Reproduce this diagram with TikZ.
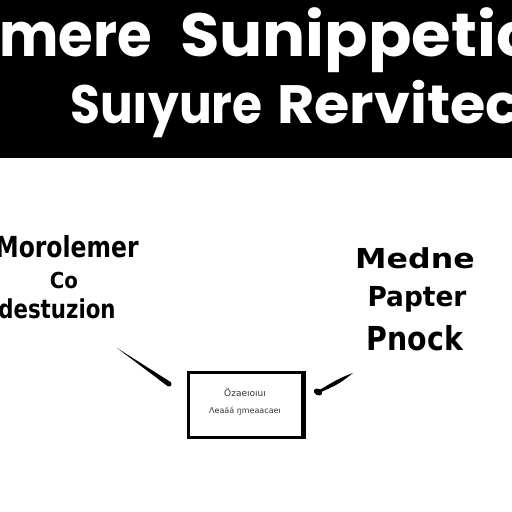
\documentclass[tikz,border=0pt]{standalone}
\usepackage{fontspec}
\setmainfont{DejaVu Sans}
\newfontfamily\bannerfont{Poppins}
\newfontfamily\bodyfont{DejaVu Sans}
\usetikzlibrary{calc}
\tikzset{
  bannertext/.style={text=white, inner sep=0pt, anchor=base west, font=\bannerfont\bfseries},
  bodytext/.style={text=black, inner sep=0pt, anchor=base, font=\bodyfont\bfseries},
  boxtext/.style={text=black!80, inner sep=0pt, anchor=base, font=\bodyfont},
  frame/.style={draw=black, line width=3pt, fill=white, minimum width=114pt, minimum height=65pt, inner sep=0pt},
  stroke/.style={fill=black, draw=none}
}
\begin{document}
\begin{tikzpicture}[x=1pt,y=-1pt]
\useasboundingbox (0,0) rectangle (512,512);
\fill[white] (0,0) rectangle (512,512);
% banner
\fill[black] (0,0) rectangle (512,158);
\begin{scope}
\clip (0,0) rectangle (512,158);
\node[bannertext, xscale=0.92] (t1a) at (-1,56) {\fontsize{61}{61}\selectfont mere};
\node[bannertext, xscale=1.05] (t1b) at (180,56) {\fontsize{61}{61}\selectfont Sunippetic};
\node[bannertext, xscale=0.9] (t2a) at (70,123) {\fontsize{54}{54}\selectfont Suıyure};
\node[bannertext, xscale=1.06] (t2b) at (277,123) {\fontsize{54}{54}\selectfont Rervitec};
\end{scope}
% left text
\node[bodytext, xscale=0.81] (l1) at (67,257) {\fontsize{29}{29}\selectfont Morolemer};
\node[bodytext, xscale=0.9] (l2) at (64,288) {\fontsize{22}{22}\selectfont Co};
\node[bodytext, xscale=0.82] (l3) at (57,318) {\fontsize{26}{26}\selectfont destuzion};
% right text
\node[bodytext, xscale=1.15] (r1) at (415,268) {\fontsize{27.5}{27.5}\selectfont Medne};
\node[bodytext, xscale=0.96] (r2) at (417,306) {\fontsize{27.5}{27.5}\selectfont Papter};
\node[bodytext, xscale=0.86] (r3) at (415,350) {\fontsize{33}{33}\selectfont Pnock};
% box
\node[frame] (box) at (245,405) {};
\draw[line width=2pt] ($(box.north east)+(1,0)$) -- ($(box.south east)+(1,0)$);
\node[boxtext] (b1) at (245,396) {\fontsize{9}{9}\selectfont Özaeıoıuı};
\node[boxtext] (b2) at (245,413) {\fontsize{8}{8}\selectfont Λeaáá ŋmeaacaeı};
% connectors
\coordinate (ls) at (117,348);
\coordinate (le) at (169,384);
\fill[stroke] (ls) -- ($(le)+(1.4,-2.1)$) -- ($(le)+(-1.4,2.1)$) -- cycle;
\fill[stroke] (le) circle (2.5);
\coordinate (rs) at (353,373);
\coordinate (re) at (318,392);
\fill[stroke] (rs) .. controls (340,378) .. ($(re)+(0.9,-1.8)$) -- ($(re)+(-0.9,1.8)$) .. controls (339,384) .. (rs) -- cycle;
\fill[stroke, rotate around={-28:(re)}] (re) ellipse (4.5 and 3.2);
\end{tikzpicture}
\end{document}
